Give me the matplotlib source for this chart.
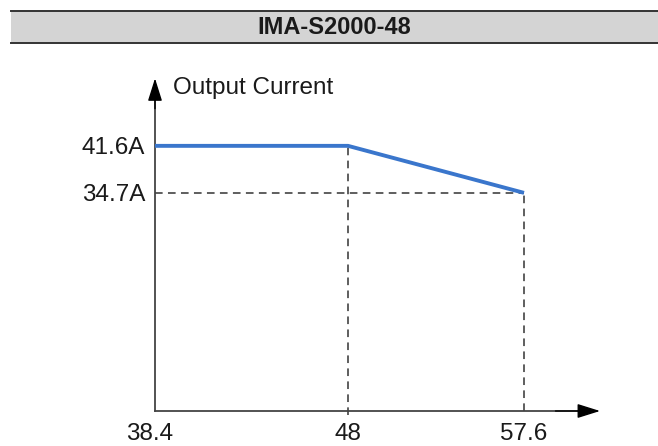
import matplotlib.pyplot as plt
import numpy as np
from matplotlib.patches import Rectangle
from matplotlib.lines import Line2D
from matplotlib.scale import FuncScale
from matplotlib.transforms import ScaledTranslation

plt.rcParams['font.family'] = ['Liberation Sans', 'DejaVu Sans']

# derating curve of the model
title = "IMA-S2000-48"
y_label = "Output Current"
voltage = [38.4, 48, 57.6]
current = [41.6, 41.6, 34.7]
x_ticks = [38.4, 48, 57.6]
x_tick_labels = ["38.4", "48", "57.6"]
y_ticks = [41.6, 34.7]
y_tick_labels = ["41.6A", "34.7A"]

W, H = 658, 446
fig = plt.figure(figsize=(W / 100, H / 100), dpi=100)

# grey title bar with dark rules
fig.patches.append(Rectangle((11 / W, 1 - 43 / H), 1 - 11 / W, 32 / H,
                             transform=fig.transFigure, facecolor="#d4d4d4",
                             edgecolor="none"))
for yy in (1 - 11 / H, 1 - 43 / H):
	fig.lines.append(Line2D([11 / W, 1], [yy, yy], transform=fig.transFigure,
	                        color="#333333", lw=1.4))
fig.text(334 / W, 1 - 28 / H, title, ha="center", va="center",
         fontsize=17, fontweight="bold", color="#1a1a1a")

ax = fig.add_axes([155 / W, 35 / H, 445 / W, 336 / H])

# the drawing is schematic: equal voltage steps are not equal widths
knots = [38.4, 48, 57.6, 61.6]
spots = [0, 193, 369, 445]


def fwd(x):
	return np.interp(x, knots, spots)


def inv(p):
	return np.interp(p, spots, knots)


ax.set_xscale(FuncScale(ax.xaxis, (fwd, inv)))
ax.set_xlim(38.4, 61.6)
ax.set_ylim(2.68, 52.0)

for s in ax.spines.values():
	s.set_visible(False)

# dashed guides
dash = dict(color="#333333", lw=1.1, dashes=(5, 3.5))
ax.plot([voltage[0], voltage[2]], [current[2], current[2]], **dash)
ax.plot([voltage[1], voltage[1]], [2.1, current[1]], clip_on=False, **dash)
ax.plot([voltage[2], voltage[2]], [2.68, current[2]], **dash)

ax.plot(voltage, current, color="#3a76cc", lw=2.8, solid_capstyle="butt",
        zorder=3)

# axis lines (grey) with black arrow heads
ax.plot([0, 0.97], [0, 0], transform=ax.transAxes, color="#444444", lw=1.3,
        clip_on=False)
ax.plot([0, 0], [0, 0.97], transform=ax.transAxes, color="#444444", lw=1.3,
        clip_on=False)
arrow = dict(arrowstyle="-|>,head_length=0.7,head_width=0.22",
             mutation_scale=20, color="#000000", lw=1.0,
             shrinkA=0, shrinkB=0)
ax.annotate("", xy=(1, 0), xytext=(0.9, 0), xycoords="axes fraction",
            arrowprops=arrow)
ax.annotate("", xy=(0, 0.99), xytext=(0, 0.9), xycoords="axes fraction",
            arrowprops=arrow)

ax.text(18 / 445, 1 - 13 / 336, y_label, transform=ax.transAxes,
        ha="left", va="center", fontsize=17.5, color="#1a1a1a")

ax.set_xticks(x_ticks)
ax.set_xticklabels(x_tick_labels)
ax.set_yticks(y_ticks)
ax.set_yticklabels(y_tick_labels)
ax.tick_params(axis="both", length=0, labelsize=17.5, labelcolor="#1a1a1a")
ax.tick_params(axis="x", pad=9)
ax.tick_params(axis="y", pad=7)
first = ax.get_xticklabels()[0]
first.set_transform(first.get_transform() + ScaledTranslation(-5 / 100, 0, fig.dpi_scale_trans))

fig.savefig("out.png", dpi=100)
